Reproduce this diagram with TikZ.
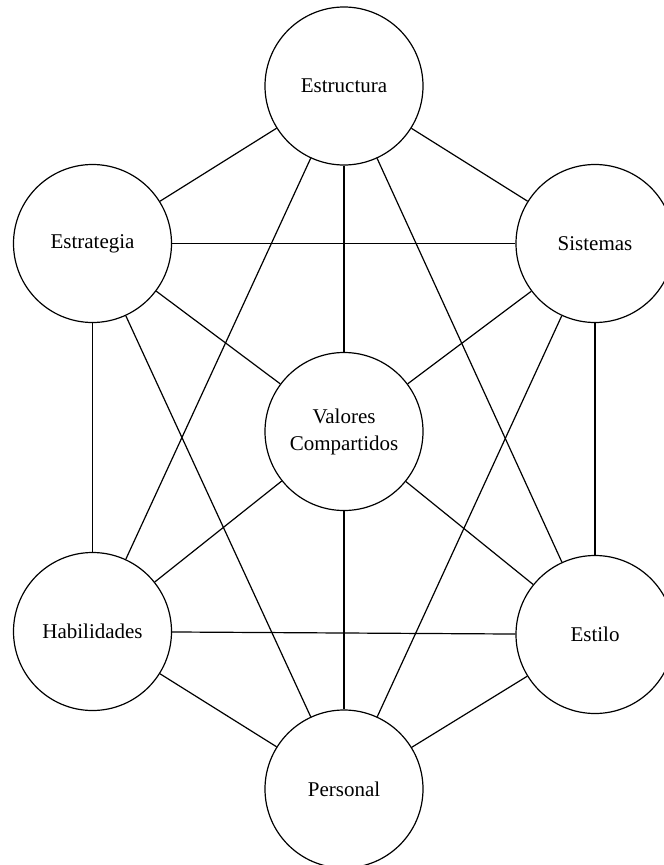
\documentclass[tikz,border=0pt]{standalone}
\usepackage{fontspec}
\setmainfont{Liberation Serif}
\begin{document}
\begin{tikzpicture}[x=1pt,y=-1pt,
  elem/.style={circle,draw,line width=1.2pt,minimum size=158pt,inner sep=0pt,
    font=\fontsize{21}{27}\selectfont,align=center},
  link/.style={line width=1.2pt}]
\useasboundingbox (0,0) rectangle (664,865);
\node[elem] (estr) at (344,86) {Estructura};
\node[elem] (estg) at (92.5,243.5) {Estrategia};
\node[elem] (sist) at (595,243.5) {Sistemas};
\node[elem] (val) at (344,431.5) {Valores\\Compartidos};
\node[elem] (hab) at (92.5,631.5) {Habilidades};
\node[elem] (esti) at (595,634.5) {Estilo};
\node[elem] (pers) at (344,789) {Personal};
\draw[link] (estr) -- (estg);
\draw[link] (estr) -- (sist);
\draw[link] (estr) -- (val);
\draw[link] (estr) -- (hab);
\draw[link] (estr) -- (esti);
\draw[link] (estg) -- (sist);
\draw[link] (estg) -- (val);
\draw[link] (estg) -- (hab);
\draw[link] (estg) -- (pers);
\draw[link] (sist) -- (val);
\draw[link] (sist) -- (esti);
\draw[link] (sist) -- (pers);
\draw[link] (val) -- (hab);
\draw[link] (val) -- (esti);
\draw[link] (val) -- (pers);
\draw[link] (hab) -- (esti);
\draw[link] (hab) -- (pers);
\draw[link] (esti) -- (pers);
\end{tikzpicture}
\end{document}
